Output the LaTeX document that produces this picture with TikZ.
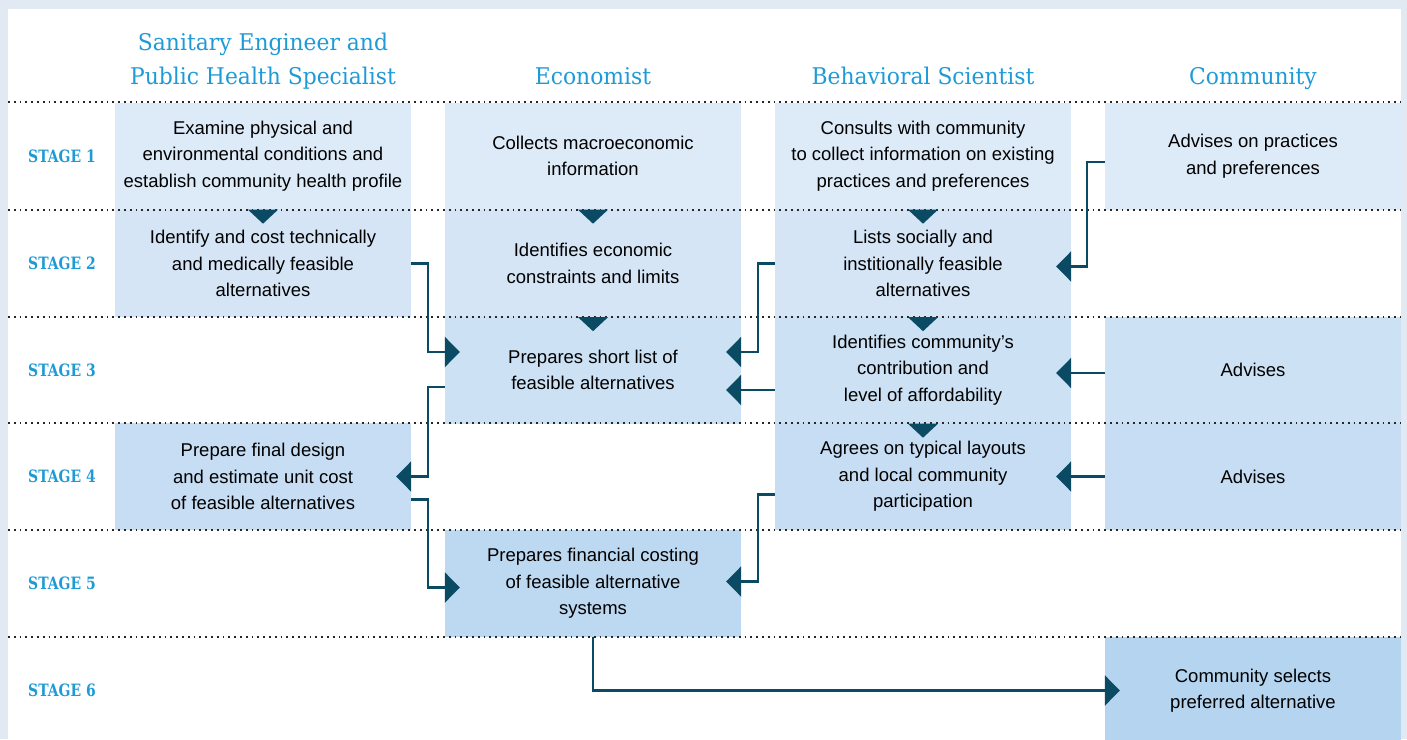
\documentclass[tikz,border=0pt]{standalone}
\usepackage{fontspec}
\usepackage{xcolor}
\usepackage{tikz}
\usetikzlibrary{arrows.meta}
\setmainfont{Liberation Sans}
\newfontfamily\headfam[FakeStretch=0.95]{DejaVu Serif}
\newfontfamily\stagefam[FakeStretch=0.82]{DejaVu Serif}
\definecolor{framecol}{HTML}{E1E9F3}
\definecolor{headblue}{HTML}{1E9BD7}
\definecolor{linkcol}{HTML}{0A4A63}
\definecolor{fillA}{HTML}{DDEAF8}
\definecolor{fillB}{HTML}{D5E5F6}
\definecolor{fillC}{HTML}{CCE1F4}
\definecolor{fillD}{HTML}{C7DDF3}
\definecolor{fillE}{HTML}{BDD8F1}
\definecolor{fillF}{HTML}{B4D4EF}
\begin{document}
\begin{tikzpicture}
		[x = 1pt, y = -1pt,
		 box/.style = {minimum width = 296pt, minimum height = 107pt, inner sep = 0pt,
		               align = center, font = \fontsize{18.5}{26.5}\selectfont},
		 head/.style = {text = headblue, align = center, font = \headfam\fontsize{23}{34}\selectfont},
		 stage/.style = {text = headblue, font = \stagefam\bfseries\fontsize{17}{20}\selectfont},
		 link/.style = {draw = linkcol, line width = 2.4pt, shorten > = -15pt,
		                -{Triangle[length = 15pt, width = 30pt]}},
		 grid/.style = {draw = black!85, line width = 1.8pt, dash pattern = on 1.8pt off 4pt}]
			\useasboundingbox (0,0) rectangle (1407,739);
			\fill[framecol] (0,0) rectangle (1407,739);
			\fill[white] (8,9) rectangle (1401,739);
			\node[head] (hse) at (263,61) {Sanitary Engineer and\\Public Health Specialist};
			\node[head, anchor = base] (hec) at (593,84) {Economist};
			\node[head, anchor = base] (hbs) at (923,84) {Behavioral Scientist};
			\node[head, anchor = base] (hcm) at (1253,84) {Community};
			\node[stage] (st1) at (62,156) {STAGE 1};
			\node[stage] (st2) at (62,263.5) {STAGE 2};
			\node[stage] (st3) at (62,370) {STAGE 3};
			\node[stage] (st4) at (62,476.5) {STAGE 4};
			\node[stage] (st5) at (62,583.5) {STAGE 5};
			\node[stage] (st6) at (62,690.5) {STAGE 6};
			\node[box, fill = fillA] (se1) at (263,156) {Examine physical and\\environmental conditions and\\establish community health profile};
			\node[box, fill = fillB] (se2) at (263,263.5) {Identify and cost technically\\and medically feasible\\alternatives};
			\node[box, fill = fillD] (se4) at (263,476.5) {Prepare final design\\and estimate unit cost\\of feasible alternatives};
			\node[box, fill = fillA] (ec1) at (593,156) {Collects macroeconomic\\information};
			\node[box, fill = fillB] (ec2) at (593,263.5) {Identifies economic\\constraints and limits};
			\node[box, fill = fillC] (ec3) at (593,370) {Prepares short list of\\feasible alternatives};
			\node[box, fill = fillE] (ec5) at (593,583.5) {Prepares financial costing\\of feasible alternative\\systems};
			\node[box, fill = fillA] (bs1) at (923,156) {Consults with community\\to collect information on existing\\practices and preferences};
			\node[box, fill = fillB] (bs2) at (923,263.5) {Lists socially and\\institionally feasible\\alternatives};
			\node[box, fill = fillC] (bs3) at (923,370) {Identifies community's\\contribution and\\level of affordability};
			\node[box, fill = fillD] (bs4) at (923,476.5) {Agrees on typical layouts\\and local community\\participation};
			\node[box, fill = fillA] (cm1) at (1253,156) {Advises on practices\\and preferences};
			\node[box, fill = fillC] (cm3) at (1253,370) {Advises};
			\node[box, fill = fillD] (cm4) at (1253,476.5) {Advises};
			\node[box, fill = fillF] (cm6) at (1253,690.5) {Community selects\\preferred alternative};
			\foreach \y in {102,210,317,423,530,637}
				\draw[grid] (8,\y) -- (1401,\y);
			\foreach \n in {se1,ec1,ec2,bs1,bs2,bs3}
				\fill[linkcol] (\n.south) ++(-15,0) -- ++(30,0) -- ++(-15,14) -- cycle;
			\draw[link] (se2.east) -- ++(17,0) |- ([yshift = 18pt]ec3.west);
			\draw[link] (bs2.west) -- ++(-17,0) |- ([yshift = 18pt]ec3.east);
			\draw[link] ([yshift = -20pt]bs3.west) -- ([yshift = -20pt]ec3.east);
			\draw[link] ([yshift = -17pt]ec3.west) -- ++(-17,0) |- (se4.east);
			\draw[link] ([yshift = -23pt]se4.east) -- ++(17,0) |- ([yshift = -4pt]ec5.west);
			\draw[link] ([yshift = -18pt]bs4.west) -- ++(-17,0) |- ([yshift = 2pt]ec5.east);
			\draw[link] ([yshift = -6pt]cm1.west) -- ++(-18,0) |- ([yshift = -3pt]bs2.east);
			\draw[link] ([yshift = -3pt]cm3.west) -- ([yshift = -3pt]bs3.east);
			\draw[link] (cm4.west) -- (bs4.east);
			\draw[link] (ec5.south) |- (cm6.west);
	\end{tikzpicture}
\end{document}
